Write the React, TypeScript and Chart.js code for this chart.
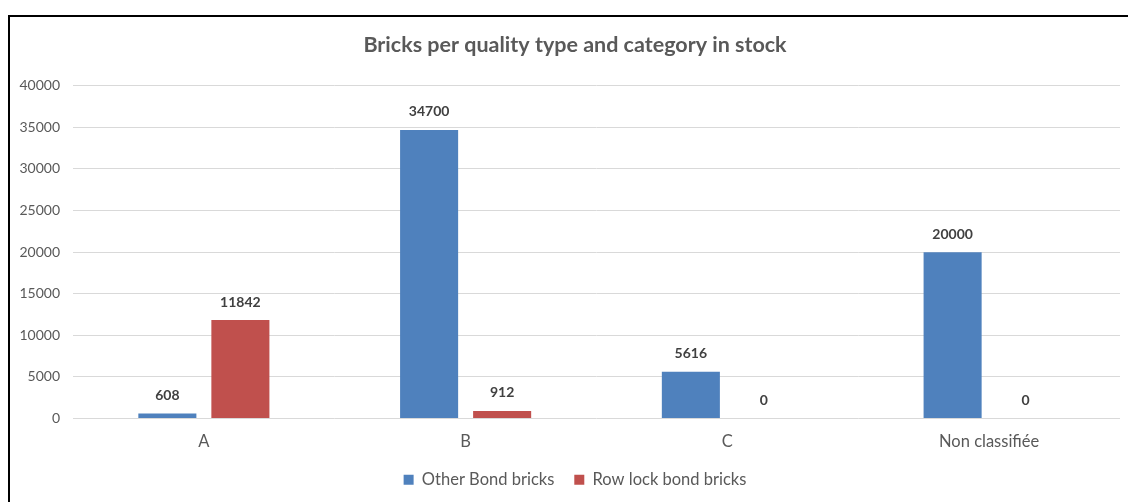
import React, { useEffect, useRef } from "react";
import { Chart, registerables } from "chart.js";

Chart.register(...registerables);

const categories = ["A", "B", "C", "Non classifiée"];
const otherBond = [608, 34700, 5616, 20000];
const rowLock = [11842, 912, 0, 0];
const seriesNames = ["Other Bond bricks", "Row lock bond bricks"];
const titleText = "Bricks per quality type and category in stock";

const FONT = "Lato, 'Liberation Sans', sans-serif";

const dataLabelPlugin = {
  id: "dataLabels",
  afterDatasetsDraw(chart: any) {
    const ctx = chart.ctx;
    ctx.save();
    ctx.font = `bold 14px ${FONT}`;
    ctx.fillStyle = "#404040";
    ctx.textAlign = "center";
    ctx.textBaseline = "middle";
    chart.data.datasets.forEach((ds: any, i: number) => {
      const meta = chart.getDatasetMeta(i);
      meta.data.forEach((bar: any, j: number) => {
        const v = ds.data[j];
        ctx.fillText(String(v), bar.x, bar.y - 18);
      });
    });
    ctx.restore();
  },
};

export default function App() {
  const ref = useRef<HTMLCanvasElement | null>(null);
  useEffect(() => {
    if (!ref.current) return;
    const chart = new Chart(ref.current, {
      type: "bar",
      data: {
        labels: categories,
        datasets: [
          {
            label: seriesNames[0],
            data: otherBond,
            backgroundColor: "#4F81BD",
            categoryPercentage: 0.558,
            barPercentage: 0.795,
          },
          {
            label: seriesNames[1],
            data: rowLock,
            backgroundColor: "#C0504D",
            categoryPercentage: 0.558,
            barPercentage: 0.795,
          },
        ],
      },
      plugins: [dataLabelPlugin],
      options: {
        animation: false,
        responsive: false,
        maintainAspectRatio: false,
        layout: { padding: { left: 0, right: 0, top: 0, bottom: 4 } },
        plugins: {
          title: {
            display: true,
            text: titleText,
            color: "#595959",
            font: { family: FONT, size: 21.5, weight: "bold" },
            padding: { top: 32, bottom: 28 },
          },
          legend: {
            position: "bottom",
            labels: {
              color: "#595959",
              font: { family: FONT, size: 16.5 },
              boxWidth: 10,
              boxHeight: 10,
              padding: 20,
            },
          },
          tooltip: { enabled: false },
        },
        scales: {
          x: {
            grid: { display: false, drawTicks: false },
            border: { display: false },
            ticks: {
              color: "#595959",
              font: { family: FONT, size: 16.5 },
              padding: 13,
            },
            afterFit: (scale: any) => {
              scale.height = 33;
            },
          },
          y: {
            min: 0,
            max: 40000,
            grid: { color: "#d9d9d9", drawTicks: false },
            border: { display: false },
            ticks: {
              stepSize: 5000,
              color: "#595959",
              font: { family: FONT, size: 14 },
              padding: 13,
              callback: (v: any) => String(v),
            },
            afterFit: (scale: any) => {
              scale.width = 73;
            },
          },
          spacer: {
            type: "linear",
            position: "right",
            display: true,
            grid: { display: false, drawTicks: false },
            border: { display: false },
            ticks: { display: false },
            afterFit: (scale: any) => {
              scale.width = 30;
            },
          },
        },
      },
    });
    return () => chart.destroy();
  }, []);
  return (
    <div
      style={{
        position: "fixed",
        left: 0,
        top: 0,
        width: 1128,
        height: 502,
        overflow: "hidden",
        background: "#fff",
      }}
    >
      <div
        style={{
          position: "absolute",
          left: 8,
          top: 15,
          width: 1200,
          height: 600,
          borderLeft: "2px solid #000",
          borderTop: "2px solid #000",
        }}
      />
      <canvas
        ref={ref}
        width={1150}
        height={502}
        style={{ position: "absolute", left: 0, top: 0, width: 1150, height: 502 }}
      />
    </div>
  );
}
